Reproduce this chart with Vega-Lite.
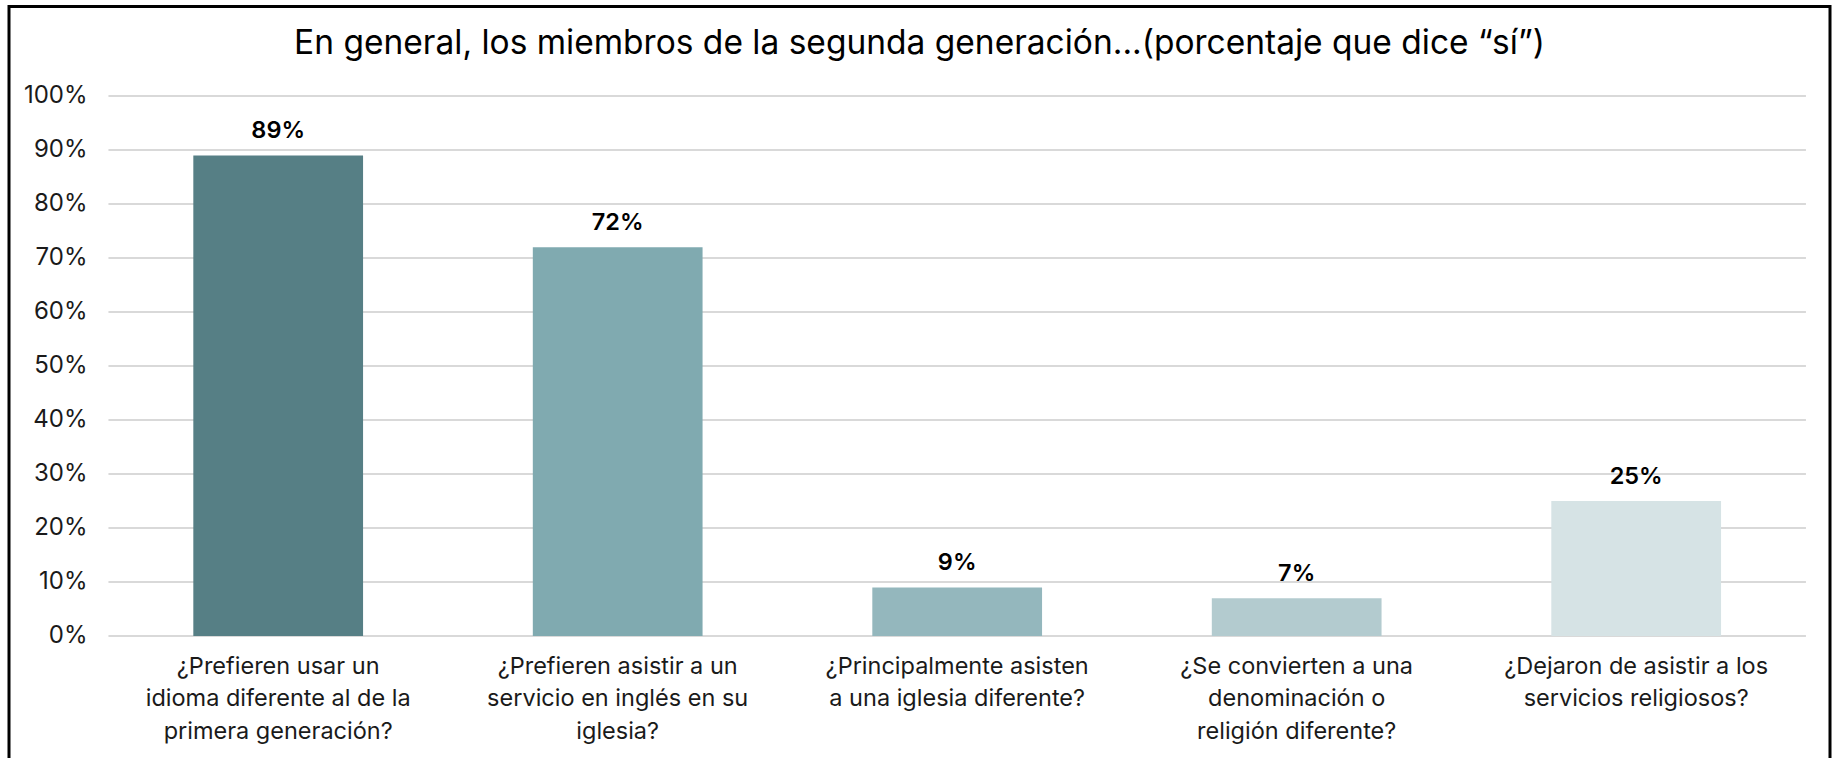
{
  "$schema": "https://vega.github.io/schema/vega-lite/v6.json",
  "autosize": {"type": "none"},
  "width": 1821,
  "height": 760,
  "padding": {"left": 9, "top": 6.5, "right": 5, "bottom": -8.5},
  "background": "white",
  "title": {
    "text": "En general, los miembros de la segunda generación...(porcentaje que dice “sí”)",
    "font": "Inter",
    "fontSize": 33.5,
    "fontWeight": "normal",
    "color": "#000000",
    "anchor": "middle",
    "baseline": "alphabetic",
    "offset": -81
  },
  "datasets": {
    "bars": [
      {"pregunta": "¿Prefieren usar un\nidioma diferente al de la\nprimera generación?", "si": 0.89},
      {"pregunta": "¿Prefieren asistir a un\nservicio en inglés en su\niglesia?", "si": 0.72},
      {"pregunta": "¿Principalmente asisten\na una iglesia diferente?", "si": 0.09},
      {"pregunta": "¿Se convierten a una\ndenominación o\nreligión diferente?", "si": 0.07},
      {"pregunta": "¿Dejaron de asistir a los\nservicios religiosos?", "si": 0.25}
    ],
    "grid": [
      {"v": 0}, {"v": 0.1}, {"v": 0.2}, {"v": 0.3}, {"v": 0.4}, {"v": 0.5},
      {"v": 0.6}, {"v": 0.7}, {"v": 0.8}, {"v": 0.9}, {"v": 1.0}
    ]
  },
  "layer": [
    {
      "data": {"name": "grid"},
      "mark": {"type": "rule", "color": "#D9D9D9", "strokeWidth": 2},
      "encoding": {
        "y": {"field": "v", "type": "quantitative"},
        "x": {"datum": "¿Prefieren usar un\nidioma diferente al de la\nprimera generación?", "type": "nominal", "bandPosition": -0.5},
        "x2": {"datum": "¿Dejaron de asistir a los\nservicios religiosos?", "bandPosition": 1.5}
      }
    },
    {
      "data": {"name": "bars"},
      "mark": {"type": "bar"},
      "encoding": {
        "x": {
          "field": "pregunta",
          "type": "nominal",
          "sort": null,
          "scale": {
            "domain": [
              "¿Prefieren usar un\nidioma diferente al de la\nprimera generación?",
              "¿Prefieren asistir a un\nservicio en inglés en su\niglesia?",
              "¿Principalmente asisten\na una iglesia diferente?",
              "¿Se convierten a una\ndenominación o\nreligión diferente?",
              "¿Dejaron de asistir a los\nservicios religiosos?"
            ],
            "paddingInner": 0.5, "paddingOuter": 0.4319, "align": 0.6285
          },
          "axis": {
            "title": null,
            "orient": "bottom",
            "offset": -130.5,
            "domain": false,
            "ticks": false,
            "tickSize": 0,
            "labelAngle": 0,
            "labelAlign": "center",
            "labelBaseline": "top",
            "labelPadding": 18,
            "labelFont": "Inter",
            "labelFontSize": 23.5,
            "labelColor": "#1a1a1a",
            "labelLineHeight": 32.5,
            "labelLimit": 400,
            "labelExpr": "split(datum.label, '\\n')"
          }
        },
        "y": {
          "field": "si",
          "type": "quantitative",
          "scale": {"domain": [-0.2417, 1.16574], "nice": false, "zero": false},
          "axis": {
            "title": null,
            "values": [0, 0.1, 0.2, 0.3, 0.4, 0.5, 0.6, 0.7, 0.8, 0.9, 1.0],
            "format": ".0%",
            "offset": -95,
            "domain": false,
            "ticks": false,
            "tickSize": 0,
            "grid": false,
            "labelPadding": 17,
            "labelFont": "Inter",
            "labelFontSize": 24,
            "labelColor": "#1a1a1a"
          }
        },
        "color": {
          "field": "pregunta",
          "type": "nominal",
          "sort": null,
          "legend": null,
          "scale": {
            "domain": [
              "¿Prefieren usar un\nidioma diferente al de la\nprimera generación?",
              "¿Prefieren asistir a un\nservicio en inglés en su\niglesia?",
              "¿Principalmente asisten\na una iglesia diferente?",
              "¿Se convierten a una\ndenominación o\nreligión diferente?",
              "¿Dejaron de asistir a los\nservicios religiosos?"
            ],
            "range": ["#567F85", "#80AAB0", "#94B7BD", "#B3CBCF", "#D6E3E5"]
          }
        }
      }
    },
    {
      "data": {"name": "bars"},
      "mark": {"type": "text", "font": "Inter", "fontSize": 23.5, "fontWeight": 600, "color": "#000000", "baseline": "alphabetic", "dy": -17},
      "encoding": {
        "x": {"field": "pregunta", "type": "nominal", "sort": null},
        "y": {"field": "si", "type": "quantitative"},
        "text": {"field": "si", "type": "quantitative", "format": ".0%"}
      }
    }
  ],
  "config": {
    "view": {"stroke": "#000000", "strokeWidth": 3}
  }
}
